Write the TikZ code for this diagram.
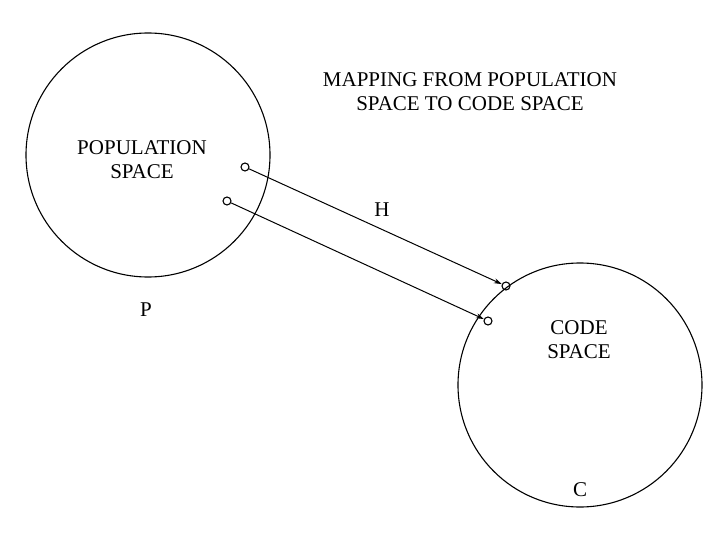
\documentclass[tikz,border=0pt]{standalone}
\usepackage{fontspec}
\setmainfont{Liberation Serif}
\usetikzlibrary{arrows.meta}
\begin{document}
\begin{tikzpicture}[x=1pt,y=-1pt,
  big/.style={draw,circle,line width=1.1pt,minimum size=244pt,inner sep=0pt},
  dot/.style={draw,circle,line width=1.1pt,minimum size=8pt,inner sep=0pt},
  lbl/.style={font=\fontsize{21}{24}\selectfont,align=center,inner sep=0pt},
  arr/.style={line width=1pt,-{Stealth[length=8pt,width=5pt]}}]
\useasboundingbox (0,0) rectangle (720,540);
\node[big] (P) at (148,155) {};
\node[big] (C) at (580,385) {};
\node[dot] (a1) at (245,167) {};
\node[dot] (a2) at (227,201) {};
\node[dot] (b1) at (506,286) {};
\node[dot] (b2) at (488,321) {};
\draw[arr] (a1) -- (b1);
\draw[arr] (a2) -- (b2);
\node[lbl] (t) at (470,92) {MAPPING FROM POPULATION\\SPACE TO CODE SPACE};
\node[lbl] (ps) at (142,160) {POPULATION\\SPACE};
\node[lbl] (h) at (382,210) {H};
\node[lbl] (p) at (146,310) {P};
\node[lbl] (cs) at (579,340) {CODE\\SPACE};
\node[lbl] (c) at (580,490) {C};
\end{tikzpicture}
\end{document}
